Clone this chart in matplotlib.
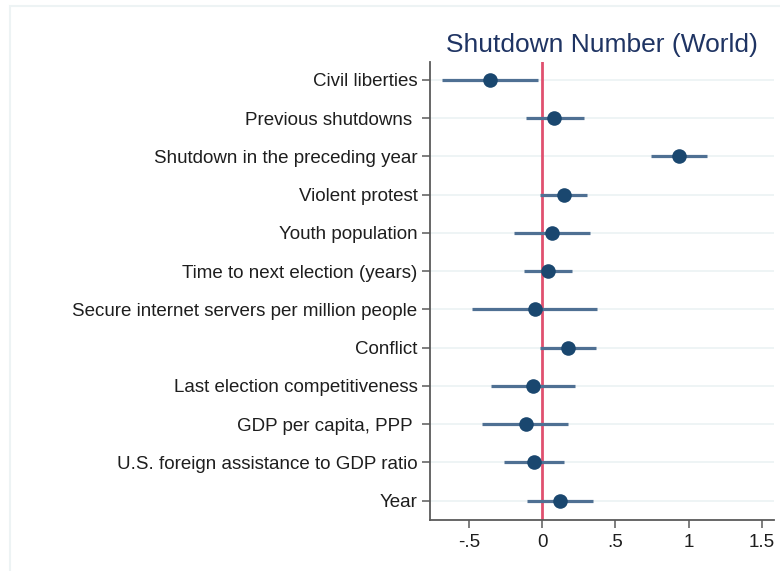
import matplotlib
matplotlib.use("Agg")
import matplotlib.pyplot as plt
from matplotlib.patches import Rectangle
from matplotlib.ticker import FixedLocator

plt.rcParams['font.family'] = ['Liberation Sans', 'DejaVu Sans']

# Coefficient estimates with 95% confidence intervals
variables = [
    "Civil liberties",
    "Previous shutdowns ",
    "Shutdown in the preceding year",
    "Violent protest",
    "Youth population",
    "Time to next election (years)",
    "Secure internet servers per million people",
    "Conflict",
    "Last election competitiveness",
    "GDP per capita, PPP ",
    "U.S. foreign assistance to GDP ratio",
    "Year",
]
coef = [-0.357, 0.082, 0.936, 0.146, 0.066, 0.041, -0.052, 0.178, -0.066, -0.113, -0.055, 0.121]
ci_low = [-0.685, -0.113, 0.745, -0.014, -0.190, -0.123, -0.478, -0.016, -0.350, -0.410, -0.262, -0.107]
ci_high = [-0.027, 0.287, 1.127, 0.303, 0.326, 0.205, 0.372, 0.367, 0.221, 0.178, 0.150, 0.348]
x_ticks = [-0.5, 0, 0.5, 1, 1.5]
x_tick_labels = ["-.5", "0", ".5", "1", "1.5"]
title = "Shutdown Number (World)"

W, H = 780, 571
fig = plt.figure(figsize=(W / 100, H / 100), dpi=100)
fig.patch.set_facecolor("white")

# Outer frame (partly running off the canvas)
fig.patches.append(Rectangle((10 / W, -0.2), 1.5, 1.2 - 6 / H,
                             transform=fig.transFigure, fill=False,
                             edgecolor="#edf3f4", linewidth=1.5))

ax = fig.add_axes([430 / W, 1 - 520 / H, (774 - 430) / W, (520 - 62) / H])

n = len(variables)
ypos = list(range(n, 0, -1))

# Light horizontal guide lines at each row
for y in ypos:
    ax.axhline(y, color="#edf3f5", linewidth=1.3, zorder=0)

# Reference line at zero
ax.axvline(0, color="#e0506f", linewidth=2.0, zorder=1)

# Confidence intervals and point estimates
ax.hlines(ypos, ci_low, ci_high, color="#4f7093", linewidth=2.3, zorder=2)
ax.plot(coef, ypos, "o", color="#1a476f", markersize=10.5, zorder=3,
        markeredgewidth=0)

ax.set_xlim(-0.767, 1.583)
ax.set_ylim(0.495, 12.47)

ax.set_yticks(ypos)
ax.set_yticklabels(variables)
ax.xaxis.set_major_locator(FixedLocator(x_ticks))
ax.set_xticklabels(x_tick_labels)

for side in ("top", "right"):
    ax.spines[side].set_visible(False)
for side in ("left", "bottom"):
    ax.spines[side].set_color("#5a5a5a")
    ax.spines[side].set_linewidth(1.3)

ax.tick_params(axis="both", colors="#5a5a5a", labelcolor="#1e1e1e",
               labelsize=13.5, length=6, width=1.1)
ax.tick_params(axis="y", pad=3)
ax.tick_params(axis="x", pad=4)

ax.set_title(title, fontsize=19, color="#1f3463", pad=7)

fig.savefig("out.png", dpi=100, facecolor="white")
